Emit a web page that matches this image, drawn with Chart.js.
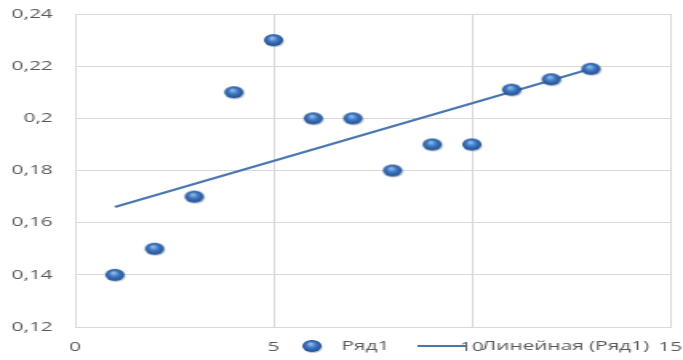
<!DOCTYPE html>
<html>
<head>
<meta charset="utf-8">
<script src="https://cdn.jsdelivr.net/npm/chart.js@4/dist/chart.umd.min.js"></script>
<style>
  html, body { margin: 0; padding: 0; background: #fff; overflow: hidden; }
  #wrap { width: 683px; height: 360px; }
</style>
</head>
<body>
<div id="wrap"><canvas id="c" width="427" height="360" style="display:block;width:683px;height:360px"></canvas></div>
<script>
// Ряд1 — measured values
const xValues = [1, 2, 3, 4, 5, 6, 7, 8, 9, 10, 11, 12, 13];
const yValues = [0.14, 0.15, 0.17, 0.21, 0.23, 0.20, 0.20, 0.18, 0.19, 0.19, 0.211, 0.215, 0.219];
// Линейная (Ряд1) — trend line end points
const trendX = [1, 13];
const trendY = [0.166, 0.219];
// axis ticks
const xTicks = [0, 5, 10, 15];
const yTicks = [0.12, 0.14, 0.16, 0.18, 0.2, 0.22, 0.24];

const seriesName = 'Ряд1';
const trendName = 'Линейная (Ряд1)';

const FONT = '"Open Sans", "DejaVu Sans", sans-serif';
const TEXT = '#595959';
const GRID = '#d9d9d9';
const LINE = '#4a76b2';

// glossy blue marker
function makeMarker(r) {
  const s = r * 2 + 4;
  const cv = document.createElement('canvas');
  cv.width = s; cv.height = s;
  const g = cv.getContext('2d');
  const c = s / 2;
  // soft shadow
  g.fillStyle = 'rgba(40,60,90,0.25)';
  g.beginPath(); g.arc(c + 0.6, c + 1.2, r, 0, Math.PI * 2); g.fill();
  const grad = g.createRadialGradient(c - r * 0.15, c - r * 0.35, r * 0.1, c, c, r);
  grad.addColorStop(0, '#8fb8ea');
  grad.addColorStop(0.45, '#3f78c4');
  grad.addColorStop(1, '#1f4e8e');
  g.fillStyle = grad;
  g.beginPath(); g.arc(c, c, r, 0, Math.PI * 2); g.fill();
  return cv;
}
const marker = makeMarker(6);

const points = xValues.map((x, i) => ({ x, y: yValues[i] }));
const trend = trendX.map((x, i) => ({ x, y: trendY[i] }));

// legend drawn over the bottom band, as in the original layout
const bottomLegend = {
  id: 'bottomLegend',
  afterDraw(chart) {
    const ctx = chart.ctx;
    const y = 346;
    ctx.save();
    ctx.font = '13px ' + FONT;
    ctx.fillStyle = TEXT;
    ctx.textBaseline = 'middle';
    ctx.drawImage(marker, 195 - marker.width / 2, y - marker.height / 2);
    ctx.fillText(seriesName, 213.5, y);
    ctx.strokeStyle = LINE;
    ctx.lineWidth = 2;
    ctx.beginPath(); ctx.moveTo(261, y); ctx.lineTo(291, y); ctx.stroke();
    ctx.fillStyle = TEXT;
    ctx.fillText(trendName, 301, y);
    ctx.restore();
  }
};

// keep the plot area independent of tick label overhang
const noOverhangX = s => { s.height = 33; s.paddingLeft = 0; s.paddingRight = 0; };
const noOverhangY = s => { s.width = 47; s.paddingTop = 0; s.paddingBottom = 0; };

new Chart(document.getElementById('c'), {
  type: 'scatter',
  data: {
    datasets: [
      {
        label: trendName,
        type: 'line',
        data: trend,
        borderColor: LINE,
        borderWidth: 2,
        pointRadius: 0,
        fill: false,
        order: 2
      },
      {
        label: seriesName,
        data: points,
        pointStyle: marker,
        pointRadius: 6,
        order: 1
      }
    ]
  },
  plugins: [bottomLegend],
  options: {
    responsive: false,
    animation: false,
    devicePixelRatio: 1,
    layout: { padding: { top: 14, right: 8, left: 0, bottom: 0 } },
    plugins: {
      legend: { display: false },
      tooltip: { enabled: false }
    },
    scales: {
      x: {
        type: 'linear',
        min: 0, max: 15,
        afterBuildTicks: s => { s.ticks = xTicks.map(v => ({ value: v })); },
        afterFit: noOverhangX,
        grid: { color: GRID, drawTicks: false },
        border: { color: GRID },
        ticks: {
          color: TEXT,
          font: { family: FONT, size: 13 },
          padding: 12,
          maxRotation: 0
        }
      },
      y: {
        type: 'linear',
        min: 0.12, max: 0.24,
        afterBuildTicks: s => { s.ticks = yTicks.map(v => ({ value: v })); },
        afterFit: noOverhangY,
        grid: { color: GRID, drawTicks: false },
        border: { display: false },
        ticks: {
          color: TEXT,
          font: { family: FONT, size: 13 },
          padding: 14,
          callback: v => String(Math.round(v * 100) / 100).replace('.', ',')
        }
      }
    }
  }
});
</script>
</body>
</html>
